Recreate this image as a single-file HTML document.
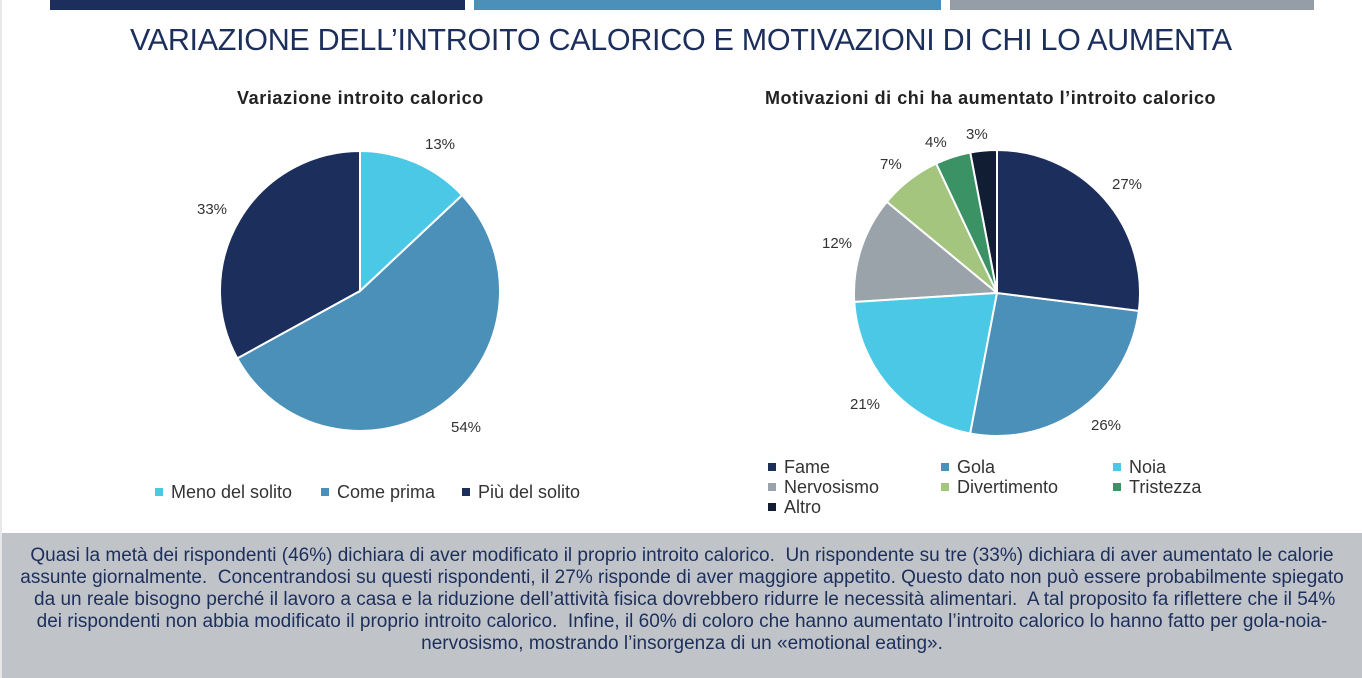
<!DOCTYPE html>
<html><head><meta charset="utf-8"><style>
body{margin:0;width:1362px;height:678px;background:#fff;overflow:hidden;position:relative;font-family:"Liberation Sans",sans-serif;color:#1c2f5c}
.bar{position:absolute;top:0;height:10px}
.t{position:absolute;white-space:nowrap}
#box{position:absolute;left:2px;top:533px;width:1360px;height:145px;background:#c0c4c9}
#box p{margin:0;position:absolute;top:12px;left:0;width:1360px;text-align:center;font-size:19px;line-height:22px;color:#1c2f5c}
.lg{position:absolute;font-size:18px;color:#333;white-space:nowrap}
.lg i{display:inline-block;width:8px;height:8px;margin-right:8px;vertical-align:2px}
</style></head><body>
<div style="position:absolute;left:0;top:0;width:2px;height:678px;background:#e8e8e8"></div>
<div class="bar" style="left:50px;width:415px;background:#1c2f5c"></div>
<div class="bar" style="left:474px;width:467px;background:#4a90b8"></div>
<div class="bar" style="left:950px;width:364px;background:#959ea6"></div>
<div class="t" style="left:130px;top:23px;font-size:30.5px;letter-spacing:-0.3px">VARIAZIONE DELL’INTROITO CALORICO E MOTIVAZIONI DI CHI LO AUMENTA</div>
<div class="t" style="left:237px;top:88px;font-size:18px;font-weight:bold;color:#222;letter-spacing:0.6px">Variazione introito calorico</div>
<div class="t" style="left:765px;top:88px;font-size:18px;font-weight:bold;color:#222;letter-spacing:0.55px">Motivazioni di chi ha aumentato l’introito calorico</div>
<svg id="s" width="1362" height="678" style="position:absolute;left:0;top:0" font-family="Liberation Sans, sans-serif" font-size="15" fill="#333">
<text x="425" y="149">13%</text>
<text x="451" y="432">54%</text>
<text x="197" y="214">33%</text>
<text x="1112" y="189">27%</text>
<text x="1091" y="430">26%</text>
<text x="850" y="409">21%</text>
<text x="822" y="248">12%</text>
<text x="880" y="169">7%</text>
<text x="925" y="147">4%</text>
<text x="966" y="139">3%</text>
</svg>
<div class="lg" style="left:155px;top:482px"><i style="background:#4bc8e6"></i>Meno del solito</div>
<div class="lg" style="left:321px;top:482px"><i style="background:#4a90b8"></i>Come prima</div>
<div class="lg" style="left:462px;top:482px"><i style="background:#1c2f5c"></i>Più del solito</div>
<div class="lg" style="left:768px;top:457px"><i style="background:#1c2f5c"></i>Fame</div>
<div class="lg" style="left:941px;top:457px"><i style="background:#4a90b8"></i>Gola</div>
<div class="lg" style="left:1113px;top:457px"><i style="background:#4bc8e6"></i>Noia</div>
<div class="lg" style="left:768px;top:477px"><i style="background:#9aa3aa"></i>Nervosismo</div>
<div class="lg" style="left:941px;top:477px"><i style="background:#a3c57e"></i>Divertimento</div>
<div class="lg" style="left:1113px;top:477px"><i style="background:#3a9265"></i>Tristezza</div>
<div class="lg" style="left:768px;top:497px"><i style="background:#101d33"></i>Altro</div>
<div id="box"><p>Quasi la metà dei rispondenti (46%) dichiara di aver modificato il proprio introito calorico.&nbsp; Un rispondente su tre (33%) dichiara di aver aumentato le calorie<br>assunte giornalmente.&nbsp; Concentrandosi su questi rispondenti, il 27% risponde di aver maggiore appetito. Questo dato non può essere probabilmente spiegato<br>&nbsp;da un reale bisogno perché il lavoro a casa e la riduzione dell’attività fisica dovrebbero ridurre le necessità alimentari.&nbsp; A tal proposito fa riflettere che il 54%<br>dei rispondenti non abbia modificato il proprio introito calorico.&nbsp; Infine, il 60% di coloro che hanno aumentato l’introito calorico lo hanno fatto per gola-noia-<br>nervosismo, mostrando l’insorgenza di un «emotional eating».</p></div>
<script>
function pie(cx,cy,r,vals,cols){
  var s=document.getElementById('s'),a=0,tot=vals.reduce((x,y)=>x+y,0);
  vals.forEach(function(v,i){
    var a0=a,a1=a+v/tot*2*Math.PI;a=a1;
    var x0=cx+r*Math.sin(a0),y0=cy-r*Math.cos(a0),x1=cx+r*Math.sin(a1),y1=cy-r*Math.cos(a1);
    var p=document.createElementNS('http://www.w3.org/2000/svg','path');
    p.setAttribute('d','M'+cx+','+cy+'L'+x0+','+y0+'A'+r+','+r+' 0 '+((a1-a0)>Math.PI?1:0)+' 1 '+x1+','+y1+'Z');
    p.setAttribute('fill',cols[i]);p.setAttribute('stroke','#fff');p.setAttribute('stroke-width','2');
    s.insertBefore(p,s.firstChild);
  });
}
pie(360,291,140,[13,54,33],['#4bc8e6','#4a90b8','#1c2f5c']);
pie(997,293,143,[27,26,21,12,7,4,3],['#1c2f5c','#4a90b8','#4bc8e6','#9aa3aa','#a3c57e','#3a9265','#101d33']);
</script>
</body></html>
